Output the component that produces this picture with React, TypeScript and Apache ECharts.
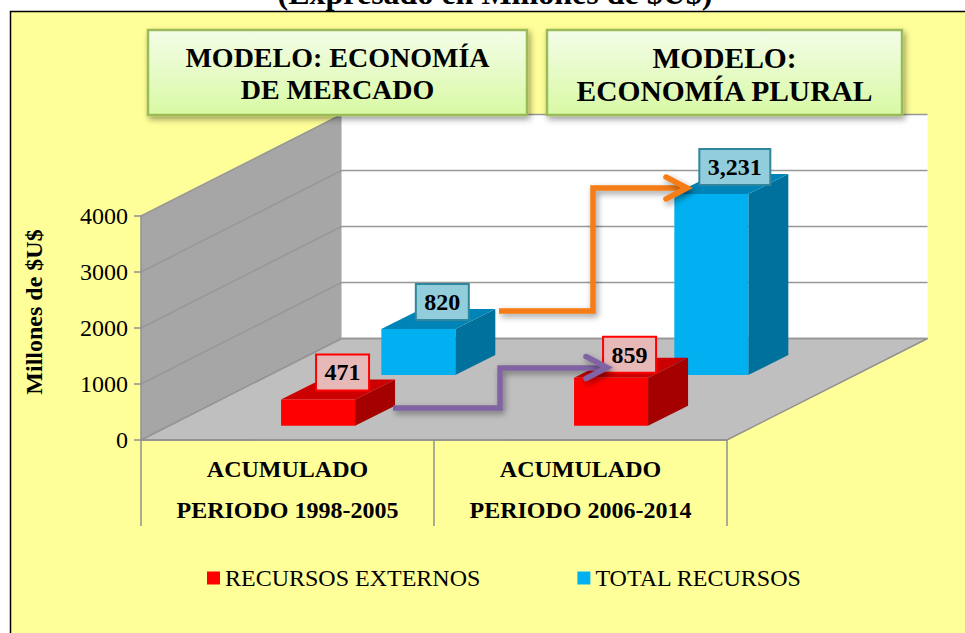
import React, { useEffect, useRef } from "react";
import * as echarts from "echarts";

const categories = ["ACUMULADO\nPERIODO 1998-2005", "ACUMULADO\nPERIODO 2006-2014"];
const externos = [471, 859];
const total = [820, 3231];
const yTicks = [0, 1000, 2000, 3000, 4000];
const SERIF = '"Liberation Serif", serif';

const WALL_DX = 200.5;
const WALL_DY = -101.5;
const BAR_W = 74;
const BAR_DX = 40;
const BAR_DY = -20;
const externosLabelNudge = [[4.5, -17], [-1.5, -13]];
const totalLabelNudge = [[4, -17], [3.5, -17]];

const wallsRender = (params: any, api: any) => {
  const cs = params.coordSys;
  const x0 = cs.x, x1 = cs.x + cs.width, y0 = cs.y + cs.height, yT = cs.y;
  const ch: any[] = [
    { type: "polygon", shape: { points: [[x0 + WALL_DX, yT + WALL_DY], [x1 + WALL_DX, yT + WALL_DY], [x1 + WALL_DX, y0 + WALL_DY], [x0 + WALL_DX, y0 + WALL_DY]] }, style: { fill: "#ffffff" } },
    { type: "polygon", shape: { points: [[x0, yT], [x0 + WALL_DX, yT + WALL_DY], [x0 + WALL_DX, y0 + WALL_DY], [x0, y0]] }, style: { fill: "#a6a6a6" } },
    { type: "polygon", shape: { points: [[x0, y0], [x1, y0], [x1 + WALL_DX, y0 + WALL_DY], [x0 + WALL_DX, y0 + WALL_DY]] }, style: { fill: "#bfbfbf", stroke: "#909090", lineWidth: 1.5 } },
  ];
  yTicks.forEach((t) => {
    const y = api.coord([0, t])[1];
    ch.push({
      type: "polyline",
      shape: { points: [[x0, y], [x0 + WALL_DX, y + WALL_DY], [x1 + WALL_DX, y + WALL_DY]] },
      style: { fill: "none", stroke: "#979797", lineWidth: 1.5 },
    });
  });
  return { type: "group", children: ch };
};

const barRender = (opts: {
  front: string; top: string; side: string; inset: number; labelFill: string; labelStroke: string; nudge: number[][];
}) => (params: any, api: any) => {
  const i = api.value(0);
  const v = api.value(1);
  const cx = api.coord([i, 0])[0];
  const y0 = api.coord([i, 0])[1];
  const yv = api.coord([i, v])[1];
  const t = opts.inset;
  const shiftX = WALL_DX * t + 2.5;
  const shiftY = WALL_DY * t;
  const l = cx + shiftX - BAR_W / 2;
  const r = l + BAR_W;
  const b = y0 + shiftY;
  const top = yv + shiftY;
  const text = Number(v).toLocaleString("en-US");
  const bw = text.length > 3 ? 71 : 53;
  const n = opts.nudge[i];
  const lx = (l + r) / 2 + BAR_DX / 2 + n[0];
  const ly = top + BAR_DY / 2 + n[1];
  return {
    type: "group",
    children: [
      { type: "polygon", shape: { points: [[r, b], [r + BAR_DX, b + BAR_DY], [r + BAR_DX, top + BAR_DY], [r, top]] }, style: { fill: opts.side } },
      { type: "polygon", shape: { points: [[l, top], [r, top], [r + BAR_DX, top + BAR_DY], [l + BAR_DX, top + BAR_DY]] }, style: { fill: opts.top } },
      { type: "rect", shape: { x: l, y: top, width: BAR_W, height: b - top }, style: { fill: opts.front } },
      { type: "rect", shape: { x: lx - bw / 2, y: ly - 18, width: bw, height: 36 }, style: { fill: opts.labelFill, stroke: opts.labelStroke, lineWidth: 2 } },
      { type: "text", style: { text, x: lx, y: ly, align: "center", verticalAlign: "middle", fontFamily: SERIF, fontWeight: "bold", fontSize: 24, fill: "#000" } },
    ],
  };
};

const shadow = { shadowBlur: 6, shadowColor: "rgba(0,0,0,0.4)", shadowOffsetX: 2, shadowOffsetY: 3 };

const titleBox = (x: number, w: number, lines: string[], ys: number[], size: number) => [
  {
    type: "rect", z: 20, shape: { x, y: 30, width: w, height: 85 },
    style: {
      fill: new echarts.graphic.LinearGradient(0, 0, 0, 1, [
        { offset: 0, color: "#f4fde9" }, { offset: 1, color: "#d8f9a3" },
      ]),
      stroke: "#9bbb59", lineWidth: 2.5, ...shadow,
    },
  },
  ...lines.map((t, i) => ({
    type: "text", z: 21,
    style: { text: t, x: x + w / 2, y: ys[i], align: "center", verticalAlign: "middle", fontFamily: SERIF, fontWeight: "bold", fontSize: size, fill: "#000" },
  })),
];

const arrow = (pts: number[][], tip: number[], color: string) => [
  { type: "polyline", z: 15, shape: { points: pts }, style: { fill: "none", stroke: color, lineWidth: 5.5, lineJoin: "miter", ...shadow } },
  { type: "polyline", z: 15, shape: { points: [[tip[0] - 21, tip[1] - 11], tip, [tip[0] - 21, tip[1] + 11]] }, style: { fill: "none", stroke: color, lineWidth: 5.5, lineCap: "round", lineJoin: "miter", ...shadow } },
];

export default function App() {
  const ref = useRef<HTMLDivElement>(null);
  useEffect(() => {
    document.body.style.margin = "0";
    const chart = echarts.init(ref.current!, null, { renderer: "svg" });
    chart.setOption({
      animation: false,
      backgroundColor: "#ffffff",
      textStyle: { fontFamily: SERIF },
      grid: { left: 141, top: 216, width: 586, height: 224, containLabel: false },
      legend: {
        left: 202, top: 561, itemWidth: 13, itemHeight: 13, itemGap: 97, icon: "rect",
        data: ["RECURSOS EXTERNOS", "TOTAL RECURSOS"],
        textStyle: { fontFamily: SERIF, fontSize: 24, color: "#000" },
      },
      xAxis: {
        type: "category", data: categories, z: 3,
        axisLine: { lineStyle: { color: "#909090", width: 1.5 } },
        axisTick: { show: true, length: 86, alignWithLabel: false, lineStyle: { color: "#909090", width: 1.5 } },
        axisLabel: { margin: 8, interval: 0, fontFamily: SERIF, fontWeight: "bold", fontSize: 24, lineHeight: 41, color: "#000" },
      },
      yAxis: {
        type: "value", min: 0, max: 4000, interval: 1000, z: 3,
        name: "Millones de $U$", nameLocation: "middle", nameGap: 95,
        nameTextStyle: { fontFamily: SERIF, fontWeight: "bold", fontSize: 24, color: "#000", padding: [0, 0, 0, 32] },
        splitLine: { show: false },
        axisLine: { show: true, lineStyle: { color: "#909090", width: 1.5 } },
        axisTick: { show: true, length: 7, lineStyle: { color: "#909090", width: 1.5 } },
        axisLabel: { margin: 13, fontFamily: SERIF, fontSize: 24, color: "#000", formatter: (v: number) => String(v) },
      },
      series: [
        { type: "custom", name: "walls", z: 1, silent: true, clip: false, data: [[0, 0]], renderItem: wallsRender, encode: { x: 0, y: 1 } },
        {
          type: "custom", name: "TOTAL RECURSOS", z: 2, clip: false, itemStyle: { color: "#00b0f0" },
          data: total.map((v, i) => [i, v]), encode: { x: 0, y: 1 },
          renderItem: barRender({ front: "#00b0f0", top: "#0083b6", side: "#00719c", inset: 0.64, labelFill: "#92cddc", labelStroke: "#31859c", nudge: totalLabelNudge }),
        },
        {
          type: "custom", name: "RECURSOS EXTERNOS", z: 4, clip: false, itemStyle: { color: "#ff0000" },
          data: externos.map((v, i) => [i, v]), encode: { x: 0, y: 1 },
          renderItem: barRender({ front: "#ff0000", top: "#cc0000", side: "#a50000", inset: 0.14, labelFill: "#e6b9b8", labelStroke: "#ff0000", nudge: externosLabelNudge }),
        },
      ],
      graphic: {
        elements: [
          { type: "rect", z: -10, silent: true, shape: { x: 10.5, y: 11.5, width: 970, height: 640 }, style: { fill: "#ffff99", stroke: "#000", lineWidth: 1.5 } },
          { type: "text", z: 30, style: { text: "(Expresado en Millones de $U$)", x: 495, y: -7, align: "center", verticalAlign: "middle", fontFamily: SERIF, fontWeight: "bold", fontSize: 32, fill: "#000" } },
          ...titleBox(148, 379, ["MODELO: ECONOMÍA", "DE MERCADO"], [57, 89], 28),
          ...titleBox(547, 355, ["MODELO:", "ECONOMÍA PLURAL"], [58, 91], 29.5),
          ...arrow([[499, 311], [593, 311], [593, 188], [685, 188]], [687, 188], "#f57c14"),
          ...arrow([[393, 408], [500, 408], [500, 368], [605, 368]], [607, 367.5], "#8064a2"),
        ],
      },
    });
    return () => chart.dispose();
  }, []);
  return <div ref={ref} style={{ position: "absolute", left: 0, top: 0, width: 965, height: 633 }} />;
}
